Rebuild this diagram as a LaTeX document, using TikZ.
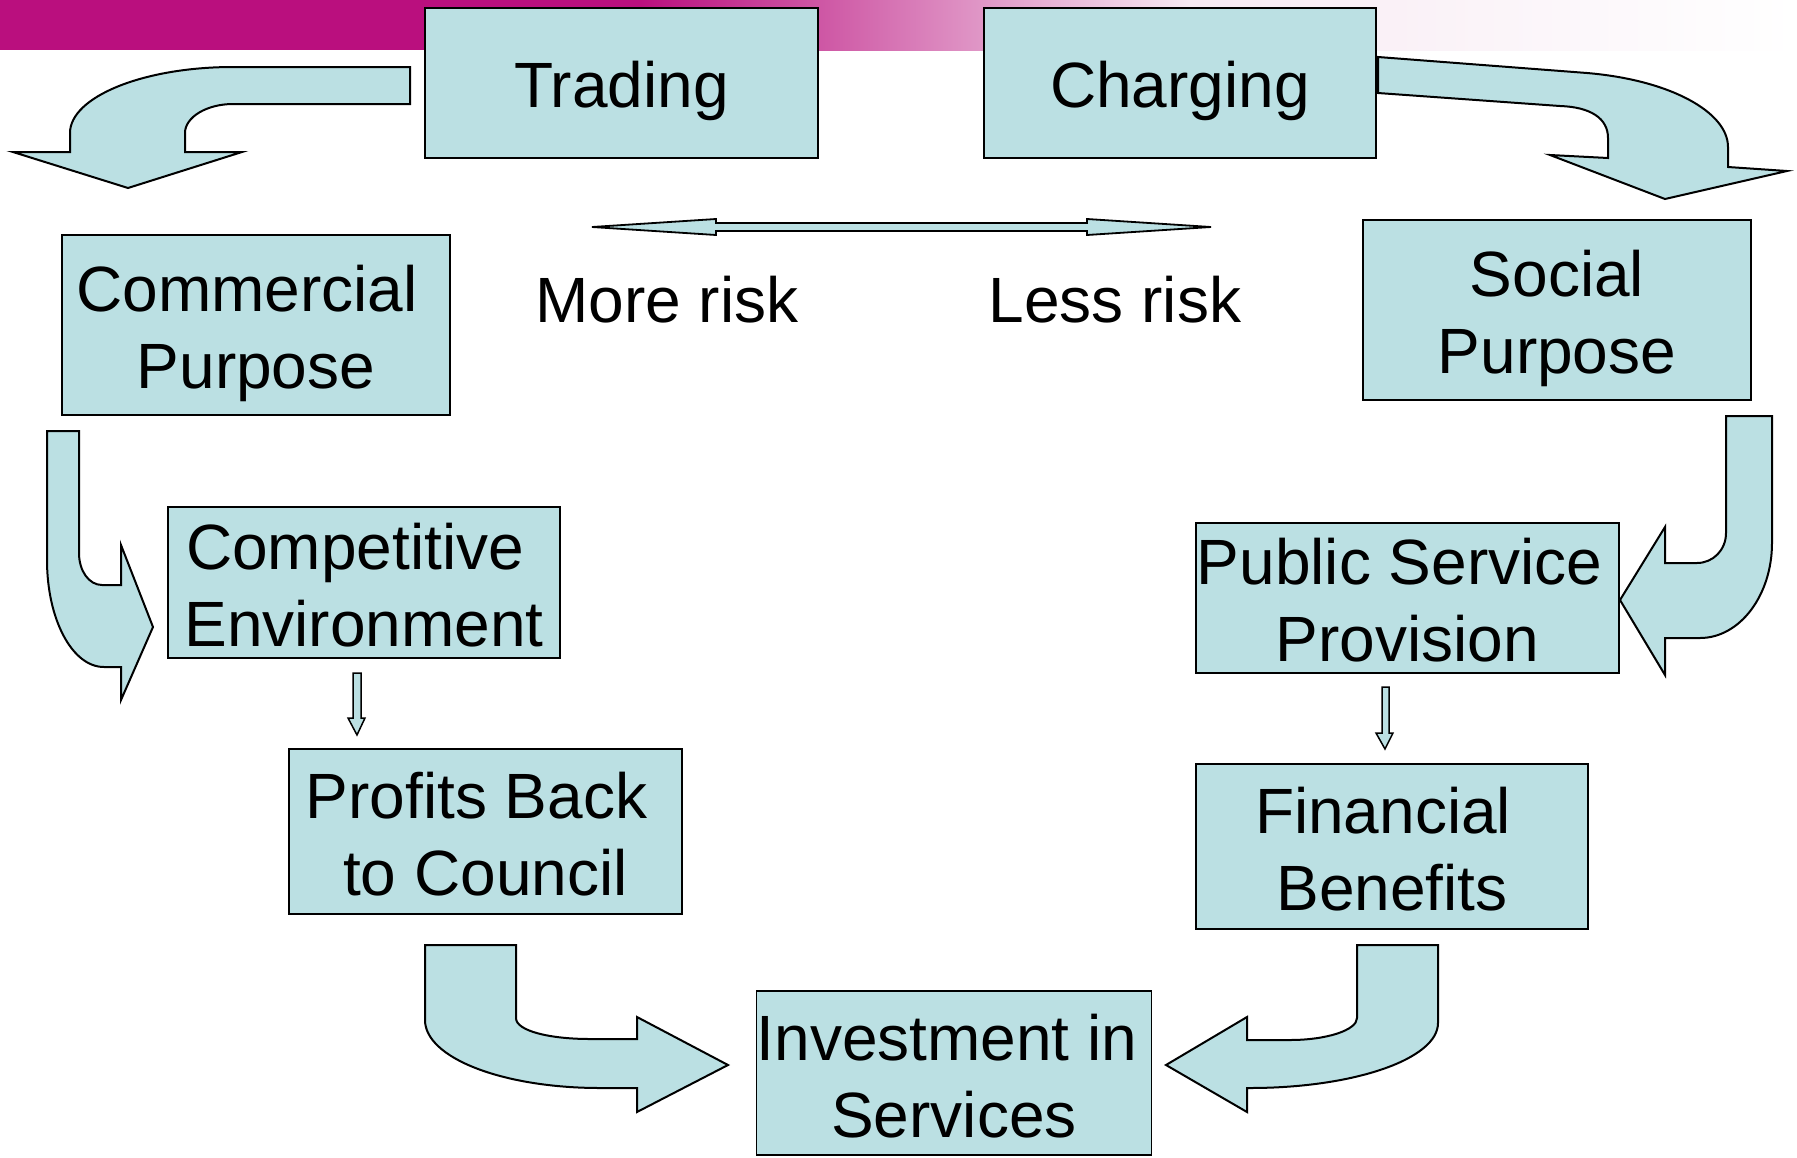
\documentclass[tikz,border=0pt]{standalone}
\usepackage{fontspec}
\setmainfont{Liberation Sans}
\definecolor{boxfill}{HTML}{BBE0E3}
\definecolor{magenta}{HTML}{BA0F7E}
\definecolor{palepink}{HTML}{F7EAF3}
\newcommand{\lowr}[2]{\raisebox{-#1}[\height][\depth]{#2}}
\newcommand{\tsp}{\hspace*{17.8pt}}
\begin{document}
\begin{tikzpicture}[x=1pt,y=-1pt,
  box/.style={draw=black,line width=1.5pt,fill=boxfill,inner sep=0pt,align=center,
    font=\fontsize{64}{77}\selectfont},
  label/.style={inner sep=0pt,font=\fontsize{64}{77}\selectfont},
  bigarrow/.style={draw=black,line width=2pt,fill=boxfill,line join=miter}]
\useasboundingbox (0,0) rectangle (1797,1157);
% top bar
\fill[magenta] (0,0) rectangle (641,50);
\shade[left color=magenta,right color=palepink] (640,0) rectangle (1190,50);
\shade[left color=palepink,right color=white] (1189,0) rectangle (1797,50);
% boxes
\node[box,minimum width=393,minimum height=150] (trading) at (621.5,83) {\lowr{8pt}{Trading}};
\node[box,minimum width=392,minimum height=150] (charging) at (1180,83) {\lowr{8pt}{Charging}};
\node[box,minimum width=388,minimum height=180] (commercial) at (256,325)
  {\lowr{8pt}{Commercial\tsp}\\ \lowr{8pt}{Purpose}};
\node[box,minimum width=388,minimum height=180] (social) at (1557,310)
  {\lowr{8pt}{Social}\\ \lowr{8pt}{Purpose}};
\node[box,minimum width=392,minimum height=151] (competitive) at (364,582.5)
  {\lowr{3pt}{Competitive\tsp}\\ \lowr{3pt}{Environment}};
\node[box,minimum width=423,minimum height=150] (public) at (1407.5,598)
  {\lowr{2pt}{Public Service\hspace*{16pt}}\\ \lowr{2pt}{Provision}};
\node[box,minimum width=393,minimum height=165] (profits) at (485.5,831.5)
  {\lowr{3pt}{Profits Back\tsp}\\ \lowr{3pt}{to Council}};
\node[box,minimum width=392,minimum height=165] (financial) at (1392,846.5)
  {\lowr{3pt}{Financial\tsp}\\ \lowr{3pt}{Benefits}};
\node[box,minimum width=394,minimum height=164] (investment) at (954,1073)
  {\lowr{3pt}{Investment in\hspace*{14pt}}\\ \lowr{3pt}{Services}};
% risk labels
\node[label] (more) at (667,300) {More risk};
\node[label] (less) at (1115,300) {Less risk};
% double arrow
\coordinate (riskL) at (592,227);
\coordinate (riskR) at (1211,227);
\draw[bigarrow,line width=1.8pt] (riskL) -- (716,219) -- (716,223) -- (1087,223) -- (1087,219) -- (riskR)
  -- (1087,235) -- (1087,231) -- (716,231) -- (716,235) -- cycle;
% top-left arrow (Trading -> Commercial Purpose)
\draw[bigarrow] (410,67) -- (233,67) .. controls (143,67) and (70,97) .. (70,133) -- (70,152)
  -- (13,152) -- (128,188) -- (242,152) -- (185,152) -- (185,133)
  .. controls (185,117) and (207,104) .. (233,104) -- (410,104) -- cycle;
% top-right arrow (Charging -> Social Purpose)
\draw[bigarrow] (1378,57) -- (1587,73) .. controls (1670,80) and (1728,112) .. (1728,147) -- (1728,167)
  -- (1787,171) -- (1665,199) -- (1550,155) -- (1608,158) -- (1608,138)
  .. controls (1608,118) and (1590,107) .. (1560,106) -- (1378,93) -- cycle;
% left vertical arrow (Commercial -> Competitive)
\draw[bigarrow] (47,431) -- (79,431) -- (79,553) .. controls (79,571) and (89,585) .. (102,585)
  -- (121,585) -- (121,545) -- (153,627) -- (121,700) -- (121,667) -- (104,667)
  .. controls (72,667) and (47,619) .. (47,560) -- cycle;
% right vertical arrow (Social -> Public Service)
\draw[bigarrow] (1726,416) -- (1772,416) -- (1772,543) .. controls (1772,595) and (1740,638) .. (1700,638)
  -- (1665,638) -- (1665,675) -- (1620,600) -- (1665,527) -- (1665,563) -- (1697,563)
  .. controls (1713,563) and (1726,550) .. (1726,533) -- cycle;
% bottom-left arrow (Profits -> Investment)
\draw[bigarrow] (425,945) -- (516,945) -- (516,1018) .. controls (516,1031) and (550,1039) .. (590,1039)
  -- (637,1039) -- (637,1017) -- (728,1065) -- (637,1112) -- (637,1088) -- (600,1088)
  .. controls (503,1088) and (425,1058) .. (425,1020) -- cycle;
% bottom-right arrow (Financial -> Investment)
\draw[bigarrow] (1357,945) -- (1438,945) -- (1438,1023) .. controls (1438,1059) and (1354,1088) .. (1250,1088)
  -- (1247,1088) -- (1247,1112) -- (1166,1065) -- (1247,1017) -- (1247,1040) -- (1290,1040)
  .. controls (1327,1040) and (1357,1030) .. (1357,1018) -- cycle;
% small down arrows
\draw[bigarrow,line width=1.5pt] (353,673) -- (361,673) -- (361,718) -- (365,718) -- (357,735)
  -- (348,718) -- (353,718) -- cycle;
\draw[bigarrow,line width=1.5pt] (1382,687) -- (1389,687) -- (1389,733) -- (1393,733) -- (1385,749)
  -- (1376,733) -- (1382,733) -- cycle;
\end{tikzpicture}
\end{document}
